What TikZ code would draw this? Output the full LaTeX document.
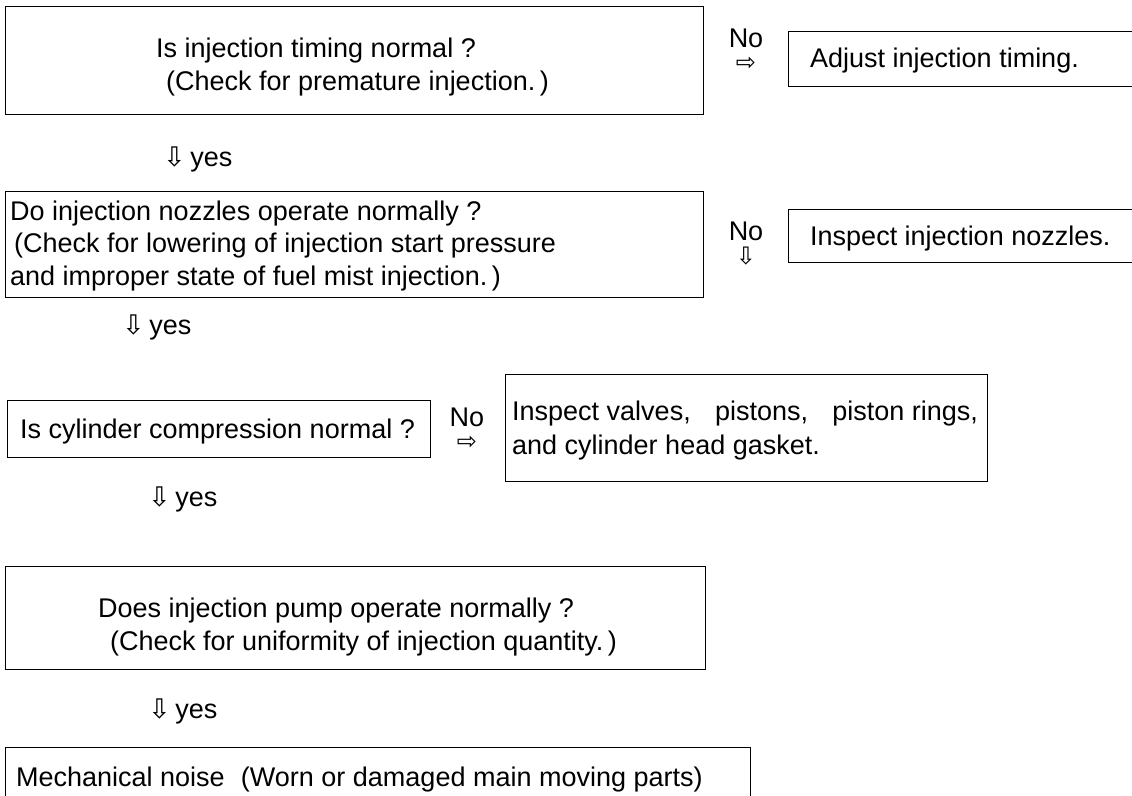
\documentclass[tikz,border=0pt]{standalone}
\usepackage{fontspec}
\setmainfont{Liberation Sans}
\newfontfamily\arrowfont{DejaVu Sans}
\usetikzlibrary{positioning}

\begin{document}
\begin{tikzpicture}[x=1pt, y=-1pt,
    box/.style={draw, line width=1.1pt, anchor=north west, inner sep=0pt},
    txt/.style={anchor=base west, inner sep=0pt, font=\fontsize{27}{32}\selectfont},
    nolabel/.style={anchor=base, inner sep=0pt, align=center, font=\fontsize{27}{32}\selectfont}]
    \clip (0,0) rectangle (1132,795);

    % Paso 1
    \node[box, minimum width=698pt, minimum height=108pt] (timing) at (5,6) {};
    \node[txt] (timingQ) at (156,57) {Is injection timing normal ?};
    \node[txt] (timingC) at (166,90) {(Check for premature injection.\,)};
    \node[nolabel] (no1) at (746,70) {No\\[-9pt]{\arrowfont\fontsize{24}{24}\selectfont ⇨}};
    \node[box, minimum width=360pt, minimum height=55pt] (adjust) at (788,31) {};
    \node[txt] (adjustT) at (810,67) {Adjust injection timing.};
    \node[txt] (yes1) at (163,166) {{\arrowfont ⇩}\,yes};

    % Paso 2
    \node[box, minimum width=698pt, minimum height=106pt] (nozzle) at (5,191) {};
    \node[txt] (nozzleQ) at (10,220) {Do injection nozzles operate normally ?};
    \node[txt] (nozzleC) at (14,252) {(Check for lowering of injection start pressure};
    \node[txt] (nozzleD) at (10,285) {and improper state of fuel mist injection.\,)};
    \node[nolabel] (no2) at (746,264) {No\\[-8pt]{\arrowfont\fontsize{24}{24}\selectfont ⇩}};
    \node[box, minimum width=360pt, minimum height=53pt] (inspect) at (788,209) {};
    \node[txt] (inspectT) at (810,245) {Inspect injection nozzles.};
    \node[txt] (yes2) at (122,334) {{\arrowfont ⇩}\,yes};

    % Paso 3
    \node[box, minimum width=423pt, minimum height=57pt] (compr) at (7,400) {};
    \node[txt] (comprQ) at (20,438) {Is cylinder compression normal ?};
    \node[nolabel] (no3) at (467,449) {No\\[-9pt]{\arrowfont\fontsize{24}{24}\selectfont ⇨}};
    \node[box, minimum width=482pt, minimum height=107pt] (valves) at (505,374) {};
    \node[txt] (valvesA) at (512,420) {Inspect valves,\hspace{0.9em}pistons,\hspace{0.9em}piston rings,};
    \node[txt] (valvesB) at (512,454) {and cylinder head gasket.};
    \node[txt] (yes3) at (148,506) {{\arrowfont ⇩}\,yes};

    % Paso 4
    \node[box, minimum width=700pt, minimum height=103pt] (pump) at (5,566) {};
    \node[txt] (pumpQ) at (98,617) {Does injection pump operate normally ?};
    \node[txt] (pumpC) at (110,650) {(Check for uniformity of injection quantity.\,)};
    \node[txt] (yes4) at (148,718) {{\arrowfont ⇩}\,yes};

    % Resultado
    \node[box, minimum width=745pt, minimum height=70pt] (noise) at (5,747) {};
    \node[txt] (noiseT) at (16,786) {Mechanical noise\hspace{0.6em}(Worn or damaged main moving parts)};
\end{tikzpicture}
\end{document}
